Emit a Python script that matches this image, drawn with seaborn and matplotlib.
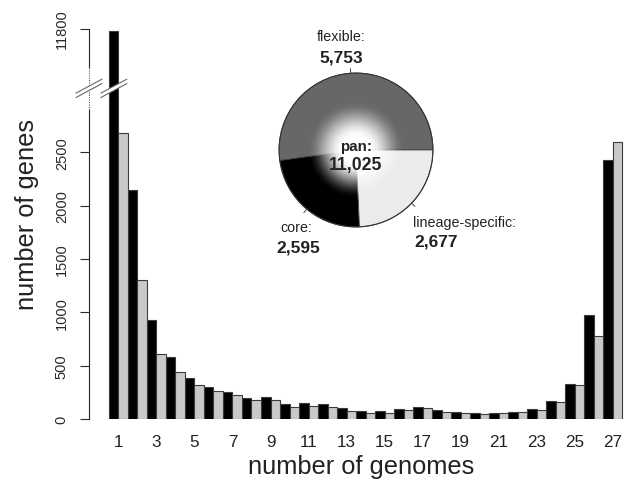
import numpy as np
import pandas as pd
import matplotlib
matplotlib.use("Agg")
import matplotlib.pyplot as plt
import matplotlib.transforms as mtransforms
from matplotlib.patches import Circle, Polygon
import seaborn as sns

# ---------------- data ----------------
genomes = list(range(1, 28))
series_black = [11780, 2148, 926, 584, 382, 297, 250, 200, 206, 141, 150, 138, 100,
                72, 75, 94, 115, 82, 66, 53, 59, 68, 91, 172, 326, 973, 2430]
series_grey = [2677, 1304, 610, 444, 322, 260, 225, 175, 178, 115, 125, 115, 78,
               53, 56, 87, 100, 68, 53, 44, 53, 63, 82, 162, 322, 776, 2595]
y_ticks = [0, 500, 1000, 1500, 2000, 2500, 11800]
x_tick_labels = [str(g) for g in genomes if g % 2 == 1]

pie_labels = ["flexible:", "core:", "lineage-specific:"]
pie_values = [5753, 2595, 2677]
pan_total = 11025

# ---------------- style ----------------
sns.set_style("ticks")
plt.rcParams["font.family"] = ["Liberation Sans", "DejaVu Sans"]

df = pd.DataFrame({
    "genomes": [str(g) for g in genomes] * 2,
    "count": series_black + series_grey,
    "series": ["black"] * len(genomes) + ["grey"] * len(genomes),
})

fig = plt.figure(figsize=(6.27, 4.89), dpi=100)
ax = fig.add_axes([89 / 627, 69 / 489, 535 / 627, 400 / 489])

sns.barplot(data=df, x="genomes", y="count", hue="series",
            order=[str(g) for g in genomes], hue_order=["black", "grey"],
            palette={"black": "#000000", "grey": "#c9c9c9"}, saturation=1,
            width=1.0, errorbar=None, legend=False, ax=ax,
            edgecolor="#3c3c3c", linewidth=0.8)

# broken y axis via a function scale
G1, G2 = 3100.0, 11240.0


def fwd(v):
    v = np.asarray(v, dtype=float)
    return np.where(v <= G1, v, np.where(v >= G2, v - (G2 - G1), G1))


def inv(u):
    u = np.asarray(u, dtype=float)
    return np.where(u <= G1, u, u + (G2 - G1))


ax.set_yscale("function", functions=(fwd, inv))
ax.set_ylim(0, 11890)
ax.set_xlim(-1.55, 26.6)

ax.set_yticks(y_ticks)
ax.set_yticklabels([str(t) for t in y_ticks])
ax.tick_params(axis="y", labelrotation=90, length=6.5, width=0.8, pad=8,
               labelsize=10.5, colors="#2a2a2a")
for lab in ax.get_yticklabels():
    lab.set_va("center")

ax.set_xticks(range(0, 27, 2))
ax.set_xticklabels(x_tick_labels)
ax.tick_params(axis="x", length=0, pad=11, labelsize=12.3, colors="#222222")

for s in ["top", "right", "bottom"]:
    ax.spines[s].set_visible(False)
ax.spines["left"].set_bounds(0, 2900)
ax.spines["left"].set_linewidth(0.8)
ax.spines["left"].set_color("#222222")

yt = ax.get_yaxis_transform()
ax.plot([0, 0], [11440, 11800], transform=yt, color="#222222", lw=0.8,
        clip_on=False, zorder=5)
ax.plot([0, 0], [2900, 11440], transform=yt, color="#555555", lw=0.8,
        ls=(0, (1, 1.2)), clip_on=False, zorder=5)

ax.set_xlabel("number of genomes", fontsize=18.3, color="#222222")
ax.set_ylabel("number of genes", fontsize=18.3, color="#222222")
ax.xaxis.label.set_va("center")
ax.yaxis.label.set_va("center")
ax.xaxis.set_label_coords(0.508, -0.1175)
ax.yaxis.set_label_coords(-0.116, 0.5125)


# break marks (double slash) on the axis and on the tall first bar
def break_mark(xpos, base_trans):
    tr = fig.dpi_scale_trans + mtransforms.ScaledTranslation(xpos, G1, base_trans)
    w, h, d = 0.13, 0.07, 0.022
    poly = Polygon([(-w, -h - d), (w, h - d), (w, h + d), (-w, -h + d)],
                   closed=True, facecolor="white", edgecolor="none",
                   transform=tr, clip_on=False, zorder=6)
    ax.add_patch(poly)
    for off in (-d, d):
        ax.plot([-w, w], [-h + off, h + off], transform=tr, color="#666666",
                lw=0.8, clip_on=False, zorder=7)


break_mark(0.0, yt)
break_mark(-0.24, ax.transData)

# ---------------- pie inset ----------------
axp = fig.add_axes([256 / 627, (489 - 251) / 489, 200 / 627, 200 / 489])
pie_colors = ["#676767", "#000000", "#ebebeb"]
wedges, _ = axp.pie(pie_values, colors=pie_colors, startangle=0,
                    counterclock=True, radius=1.0,
                    wedgeprops=dict(edgecolor="#444444", linewidth=0.6))
axp.set_xlim(-1.3, 1.3)
axp.set_ylim(-1.3, 1.3)
axp.set_aspect("equal")
axp.axis("off")

# white radial glow in the centre
n = 301
gx, gy = np.meshgrid(np.linspace(-1, 1, n), np.linspace(-1, 1, n))
r = np.sqrt(gx ** 2 + gy ** 2)
t = np.clip((0.64 - r) / 0.47, 0, 1)
alpha = t * t * (3 - 2 * t)
img = np.ones((n, n, 4))
img[..., 3] = alpha
im = axp.imshow(img, extent=(-1, 1, -1, 1), origin="lower", zorder=3,
                interpolation="bilinear")
clip = Circle((0, 0), 1.0, transform=axp.transData)
im.set_clip_path(clip)
axp.add_patch(Circle((0, 0), 1.0, fill=False, edgecolor="#333333",
                     linewidth=0.8, zorder=4))

# small label ticks at wedge mid angles
total = sum(pie_values)
start = 0.0
for v in pie_values:
    mid = np.deg2rad(start + 180.0 * v / total)
    axp.plot([np.cos(mid), 1.06 * np.cos(mid)], [np.sin(mid), 1.06 * np.sin(mid)],
             color="#444444", lw=0.7, zorder=4, clip_on=False)
    start += 360.0 * v / total

lab_kw = dict(fontsize=10.3, color="#222222", clip_on=False, zorder=5)
num_kw = dict(fontsize=12.5, fontweight="bold", color="#222222", clip_on=False, zorder=5)
axp.text(-0.19, 1.48, pie_labels[0], ha="center", va="center", **lab_kw)
axp.text(-0.19, 1.21, f"{pie_values[0]:,}", ha="center", va="center", **num_kw)
axp.text(-0.77, -1.00, pie_labels[1], ha="center", va="center", **lab_kw)
axp.text(-0.75, -1.26, f"{pie_values[1]:,}", ha="center", va="center", **num_kw)
axp.text(0.74, -0.93, pie_labels[2], ha="left", va="center", **lab_kw)
axp.text(0.76, -1.18, f"{pie_values[2]:,}", ha="left", va="center", **num_kw)
axp.text(0.0, 0.05, "pan:", ha="center", va="center", fontsize=10.9,
         fontweight="bold", color="#222222", zorder=5)
axp.text(0.0, -0.19, f"{pan_total:,}", ha="center", va="center", fontsize=12.7,
         fontweight="bold", color="#222222", zorder=5)

fig.savefig("out.png", dpi=100, facecolor="white")
